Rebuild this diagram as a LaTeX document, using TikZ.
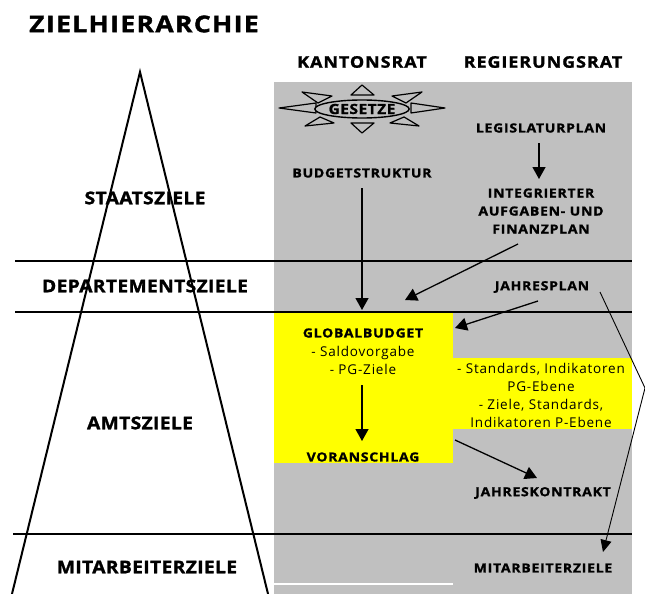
\documentclass[tikz,border=0pt]{standalone}
\usepackage{fontspec}
\setmainfont{Open Sans}
\usetikzlibrary{arrows.meta,shapes.geometric}
\definecolor{bg}{RGB}{192,192,192}
\definecolor{yel}{RGB}{255,255,0}
\begin{document}
\begin{tikzpicture}[x=1pt,y=-1pt,
  ttl/.style={font=\bfseries\fontsize{23}{26}\selectfont\addfontfeatures{FakeStretch=1.15,FakeBold=1.6,LetterSpace=6}, inner sep=0},
  sec/.style={font=\bfseries\fontsize{17.5}{20}\selectfont\addfontfeatures{FakeStretch=1.1,FakeBold=1.4,LetterSpace=2}, inner sep=0},
  col/.style={font=\bfseries\fontsize{16}{20}\selectfont\addfontfeatures{FakeStretch=1.12,FakeBold=1.4,LetterSpace=6}, inner sep=0},
  lab/.style={font=\bfseries\fontsize{12.5}{18}\selectfont\addfontfeatures{FakeStretch=1.12,FakeBold=1.3,LetterSpace=6}, inner sep=0, align=center},
  reg/.style={font=\fontsize{13.5}{18}\selectfont\addfontfeature{LetterSpace=6}, inner sep=0, align=center},
  hline/.style={line width=2.2pt},
  arr/.style={line width=1.3pt, -{Triangle[length=12pt,width=13pt]}},
  thinarr/.style={line width=0.9pt, -{Triangle[length=12pt,width=11pt]}},
  ray/.style={draw, line width=1.2pt, fill=bg, line join=round},
]
\useasboundingbox (0,0) rectangle (645,594);
\fill[white] (0,0) rectangle (645,594);
% backgrounds
\fill[bg] (274,82) rectangle (632,594);
\fill[yel] (274,313) rectangle (452.5,463);
\fill[yel] (452.5,358) rectangle (632,429);
\draw[white, line width=1.5pt] (274,584) -- (453,584);
% horizontal lines
\draw[hline] (15,261) -- (632,261);
\draw[hline] (15,312) -- (632,312);
\draw[hline] (13,534) -- (632,534);
% pyramid
\draw[line width=2pt, line join=miter] (10.5,600) -- (140,72) -- (269.5,600);
% title and headers
\node[ttl] (title) at (144,24) {ZIELHIERARCHIE};
\node[col] (kr) at (362,62) {KANTONSRAT};
\node[col] (rr) at (543,62) {REGIERUNGSRAT};
% levels
\node[sec] (staat) at (145,198) {STAATSZIELE};
\node[sec] (dep) at (145,286) {DEPARTEMENTSZIELE};
\node[sec] (amt) at (140,423) {AMTSZIELE};
\node[sec] (mit) at (147,567) {MITARBEITERZIELE};
% Gesetze star
\path[ray] (351,95) -- (374,95) -- (362,85) -- cycle;
\path[ray] (351,123) -- (374,123) -- (362,133) -- cycle;
\path[ray] (279,108) -- (316,103) -- (316,113) -- cycle;
\path[ray] (445,108) -- (411,103) -- (411,113) -- cycle;
\path[ray] (302,92) -- (332,96) -- (318,103) -- cycle;
\path[ray] (422,92) -- (392,96) -- (406,103) -- cycle;
\path[ray] (305,126) -- (320,117) -- (334,123) -- cycle;
\path[ray] (419,126) -- (404,117) -- (390,123) -- cycle;
\node[ellipse, draw, line width=1.4pt, fill=bg, minimum width=84pt, minimum height=18pt, inner sep=0,
  font=\bfseries\fontsize{14}{16}\selectfont\addfontfeatures{FakeStretch=1.1,FakeBold=1.3,LetterSpace=4}] (ges) at (362,109) {GESETZE};
% labels
\node[lab] (leg) at (541,128) {LEGISLATURPLAN};
\node[lab] (bud) at (362,173) {BUDGETSTRUKTUR};
\node[lab] (ifp) at (541,211) {INTEGRIERTER\\AUFGABEN- UND\\FINANZPLAN};
\node[lab] (jp) at (542,287) {JAHRESPLAN};
\node[lab] (gb) at (363,333) {GLOBALBUDGET};
\node[reg] (gbt) at (363,360) {- Saldovorgabe\\- PG-Ziele};
\node[lab] (vor) at (363,457) {VORANSCHLAG};
\node[reg] (std) at (541,395) {- Standards, Indikatoren\\PG-Ebene\\- Ziele, Standards,\\Indikatoren P-Ebene};
\node[lab] (jk) at (543,493) {JAHRESKONTRAKT};
\node[lab] (mz) at (543,568) {MITARBEITERZIELE};
% connector end points
\coordinate (legA) at (539,143);
\coordinate (ifpT) at (539,179);
\coordinate (budA) at (362,188);
\coordinate (gbT) at (362,310);
\coordinate (ifpA) at (518,244);
\coordinate (depT) at (405,300);
\coordinate (jpA) at (538,301);
\coordinate (gbR) at (455,328);
\coordinate (gbtB) at (362,385);
\coordinate (vorT) at (362,441);
\coordinate (vorR) at (455,440);
\coordinate (jkT) at (537,478);
\coordinate (jpR) at (600,292);
\coordinate (bend) at (645,388);
\coordinate (mzT) at (603,552);
% connectors
\draw[arr] (legA) -- (ifpT);
\draw[arr] (budA) -- (gbT);
\draw[arr] (ifpA) -- (depT);
\draw[arr] (jpA) -- (gbR);
\draw[arr] (gbtB) -- (vorT);
\draw[arr] (vorR) -- (jkT);
\draw[thinarr] (jpR) -- (bend) -- (mzT);
\end{tikzpicture}
\end{document}
